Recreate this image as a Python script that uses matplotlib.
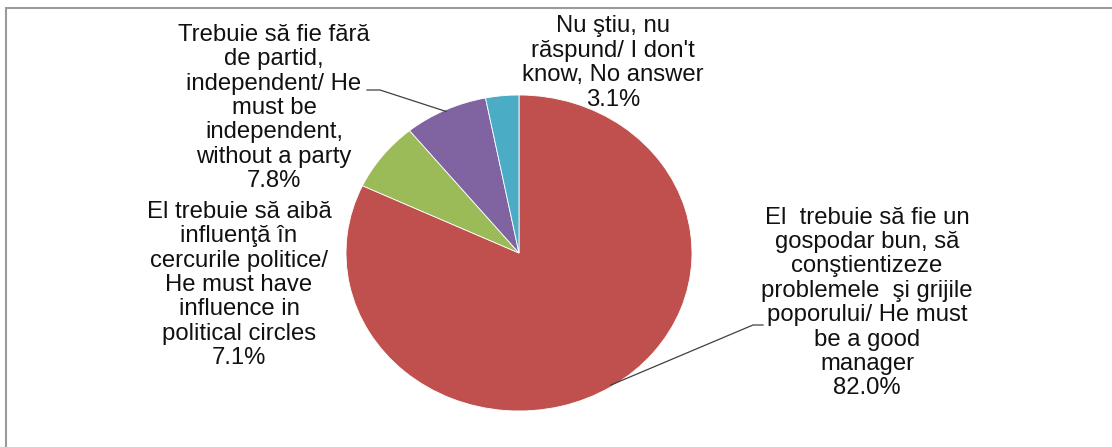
import matplotlib
matplotlib.use("Agg")
import matplotlib.pyplot as plt
import numpy as np
from matplotlib.patches import Rectangle

# ---- data ----
categories = [
    "El  trebuie să fie un\ngospodar bun, să\nconştientizeze\nproblemele  şi grijile\npoporului/ He must\nbe a good\nmanager",
    "El trebuie să aibă\ninfluenţă în\ncercurile politice/\nHe must have\ninfluence in\npolitical circles",
    "Trebuie să fie fără\nde partid,\nindependent/ He\nmust be\nindependent,\nwithout a party",
    "Nu ştiu, nu\nrăspund/ I don't\nknow, No answer",
]
values = [82.0, 7.1, 7.8, 3.1]
colors = ["#C0504D", "#9BBB59", "#8064A2", "#4BACC6"]

W, H = 1112, 447
CX, CY, RX, RY = 519, 253, 173, 158

plt.rcParams['font.family'] = ['Liberation Sans', 'DejaVu Sans']

fig = plt.figure(figsize=(W / 100, H / 100), dpi=100)
fig.patch.set_facecolor("white")

# outer frame
fig.patches.append(Rectangle((6 / W, -0.1), 1.2, 1 - 8 / H + 0.1, transform=fig.transFigure,
                             fill=False, edgecolor="#9a9a9a", linewidth=1.5))

ax = fig.add_axes([0, 0, 1, 1])
wedges, _ = ax.pie(values, colors=colors, startangle=90, counterclock=False,
                   radius=1.0, wedgeprops=dict(edgecolor="white", linewidth=0.6))
ax.set_aspect("auto")
ax.set_xlim(-CX / RX, (W - CX) / RX)
ax.set_ylim(-(H - CY) / RY, CY / RY)
ax.axis("off")


def px(x, y):
    return (x - CX) / RX, (CY - y) / RY


label_pos = [(867, 303), (239, 285), (274, 108), (613, 63)]
for cat, val, (lx, ly) in zip(categories, values, label_pos):
    tx, ty = px(lx, ly)
    ax.text(tx, ty, f"{cat}\n{val:.1f}%", ha="center", va="center",
            fontsize=17.2, linespacing=1.14, color="#111111")


def wedge_mid(w, r=1.0):
    ang = np.deg2rad((w.theta1 + w.theta2) / 2)
    return r * np.cos(ang), r * np.sin(ang)

# leader lines
for idx, pts in [(2, [(367, 90), (380, 90)]), (0, [(763, 325), (753, 325)])]:
    mx, my = wedge_mid(wedges[idx], 0.99)
    xs = [px(*p)[0] for p in pts] + [mx]
    ys = [px(*p)[1] for p in pts] + [my]
    ax.plot(xs, ys, color="#404040", linewidth=0.9)

fig.savefig("out.png", dpi=100)
